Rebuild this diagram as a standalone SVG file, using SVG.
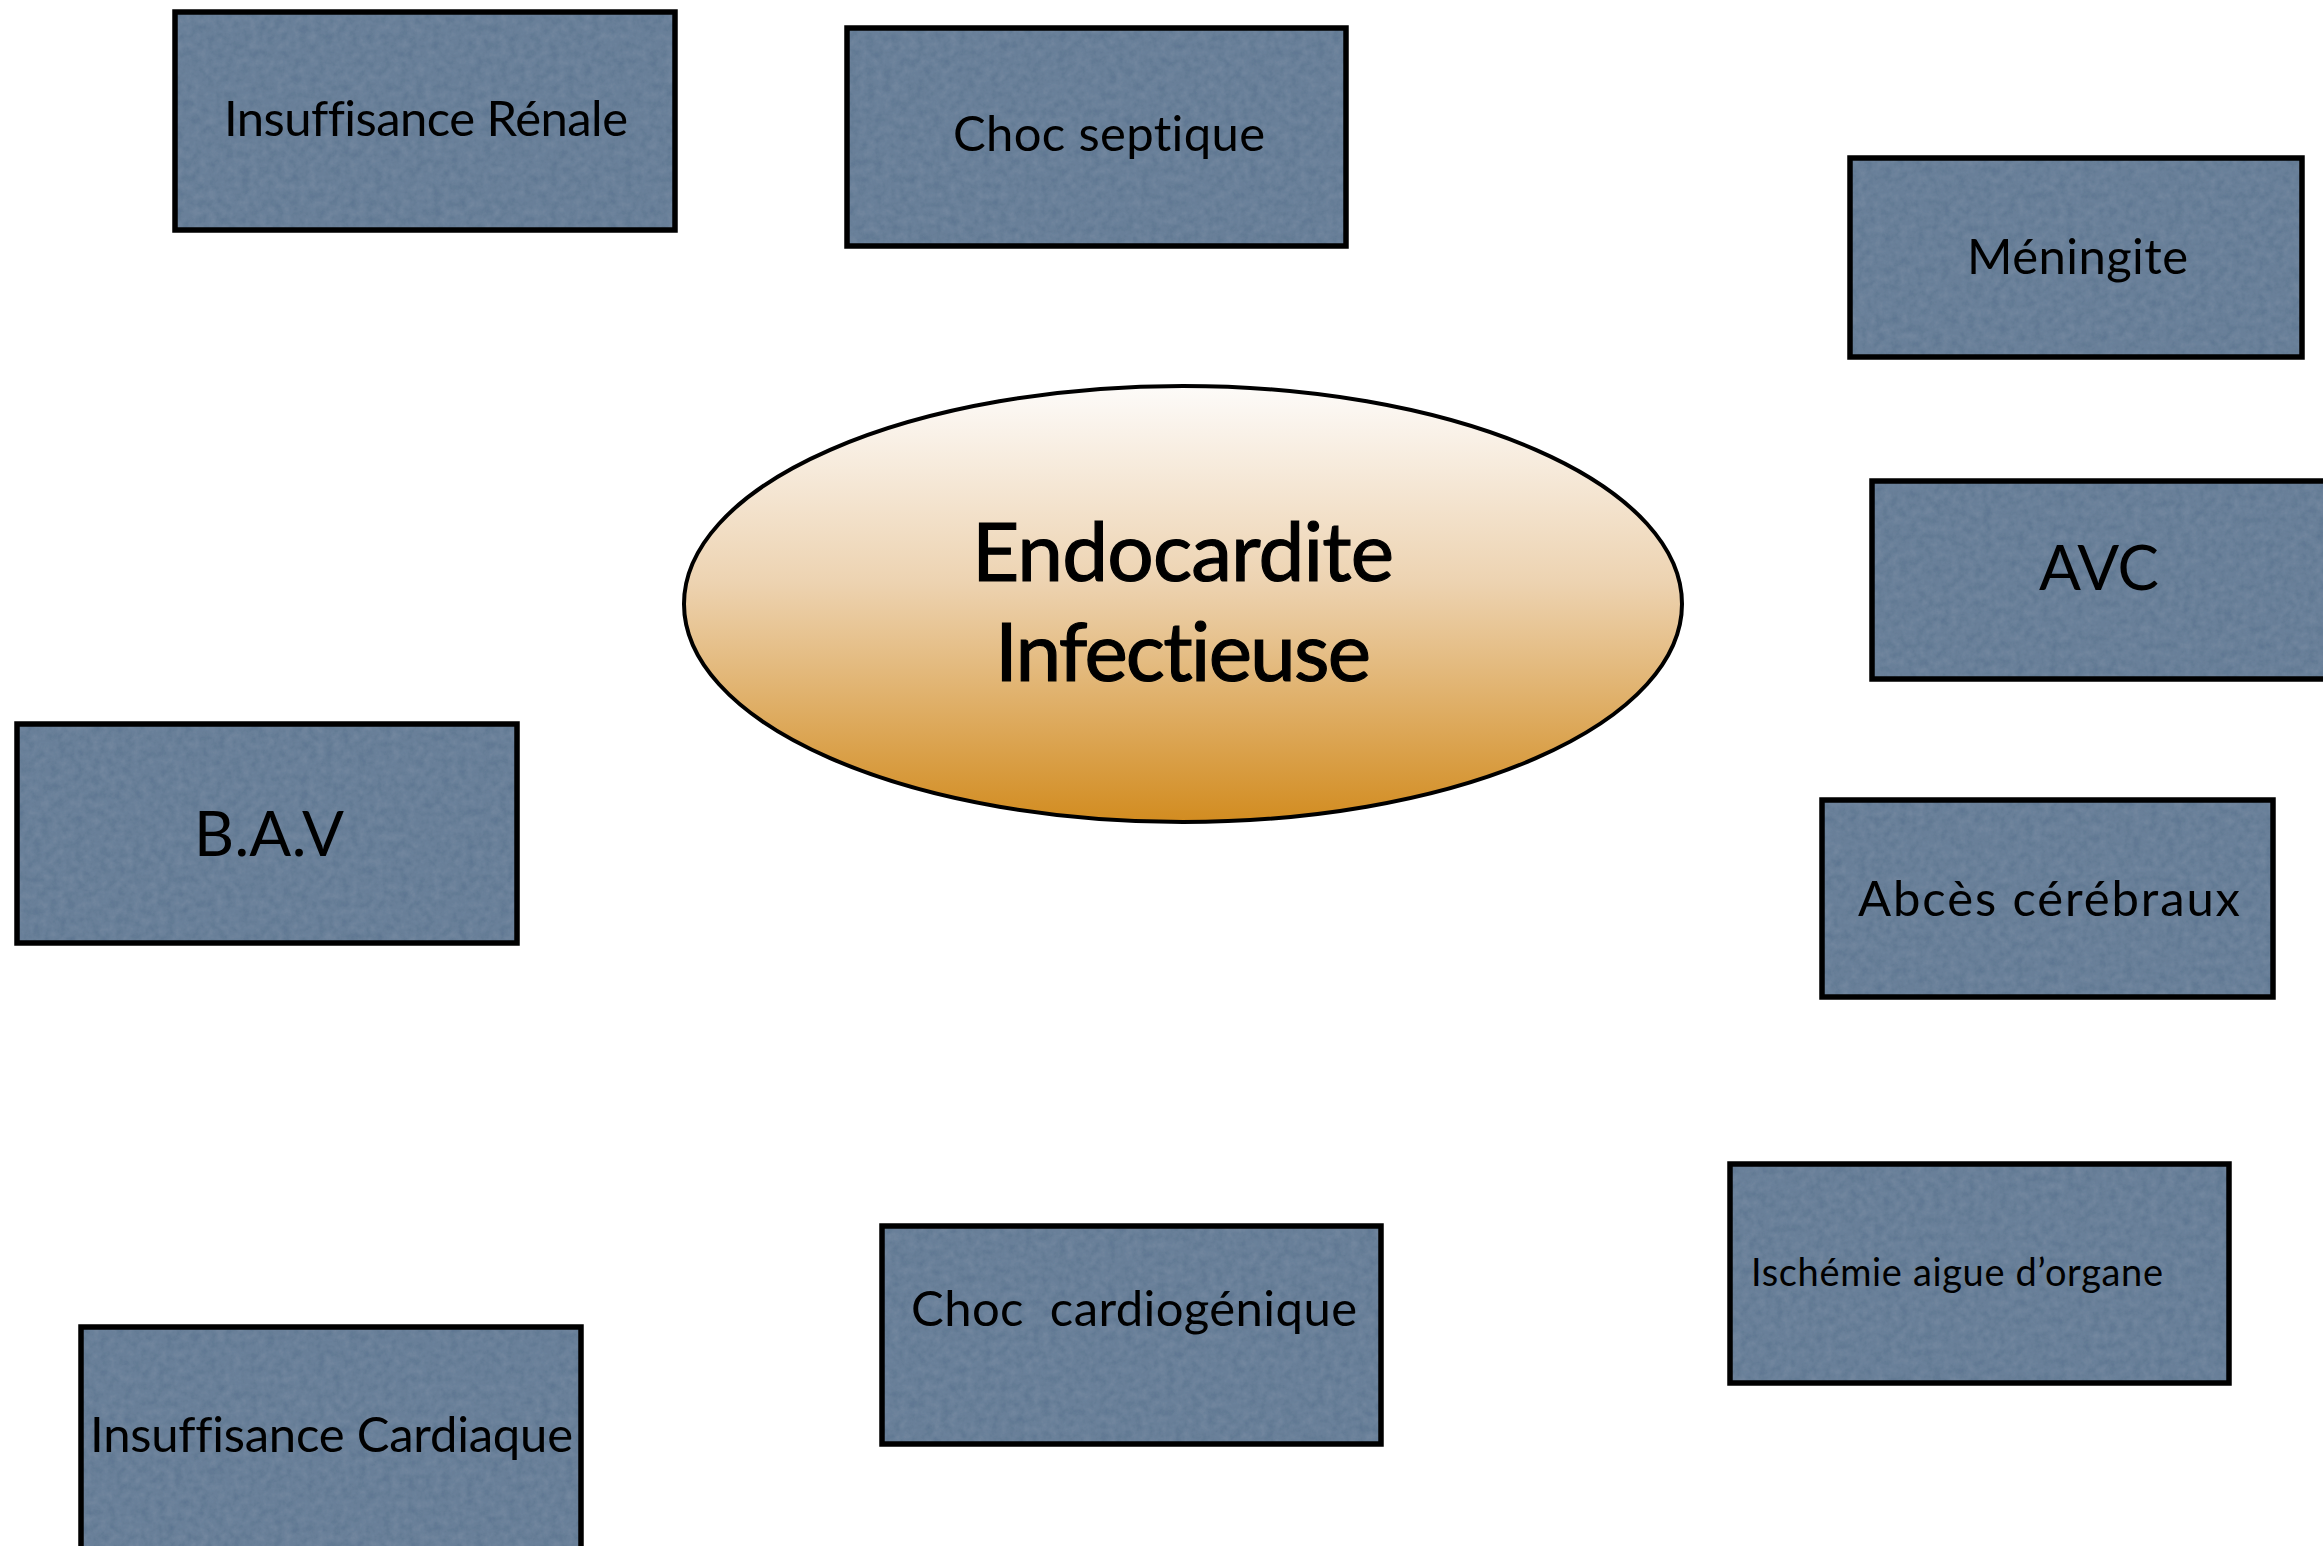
<svg xmlns="http://www.w3.org/2000/svg" width="2323" height="1546" viewBox="0 0 2323 1546">
  <style>
    .fill { fill: #5b7490; }
    .edge { fill: none; stroke: #000; stroke-width: 5.5; }
    .lbl { font-family: "Lato", "Open Sans", "Liberation Sans", sans-serif; fill: #000; font-variant-ligatures: none; }
    .md { font-size: 49px; }
    .lg { font-size: 62px; }
    .sm { font-size: 38px; }
    .hub { font-size: 82px; text-anchor: middle; stroke: #000; stroke-width: 1.2; }
  </style>
  <defs>
    <linearGradient id="hubFill" x1="0" y1="0" x2="0" y2="1">
      <stop offset="0" stop-color="#fdfbf9"/>
      <stop offset="0.45" stop-color="#edd3b1"/>
      <stop offset="1" stop-color="#d28c20"/>
    </linearGradient>
    <!-- soft paper grain for the box fills -->
    <filter id="grain" x="0" y="0" width="100%" height="100%">
      <feTurbulence type="fractalNoise" baseFrequency="0.12" numOctaves="4" seed="7" result="n"/>
      <feColorMatrix in="n" type="matrix" values="0 0 0 0 0.62  0 0 0 0 0.72  0 0 0 0 0.84  0 0 0 0.14 0" result="tint"/>
      <feComposite in="tint" in2="SourceGraphic" operator="in" result="t"/>
      <feMerge><feMergeNode in="SourceGraphic"/><feMergeNode in="t"/></feMerge>
    </filter>
  </defs>

  <rect width="2323" height="1546" fill="#fff"/>

  <!-- no connectors are drawn between the nodes -->
  <g id="connectors"></g>

  <g id="hub">
    <ellipse cx="1183" cy="604" rx="499" ry="218" fill="url(#hubFill)" stroke="#000" stroke-width="4"/>
    <text class="lbl hub" x="1183" y="581" textLength="422">Endocardite</text>
    <text class="lbl hub" x="1183" y="681" textLength="376">Infectieuse</text>
  </g>

  <g id="insuffisance-renale">
    <rect class="fill" filter="url(#grain)" x="175" y="12" width="500" height="218"/>
    <rect class="edge" x="175" y="12" width="500" height="218"/>
    <text class="lbl md" x="224" y="136" textLength="404">Insuffisance Rénale</text>
  </g>

  <g id="choc-septique">
    <rect class="fill" filter="url(#grain)" x="847" y="28" width="499" height="218"/>
    <rect class="edge" x="847" y="28" width="499" height="218"/>
    <text class="lbl md" x="953" y="151" textLength="312">Choc septique</text>
  </g>

  <g id="meningite">
    <rect class="fill" filter="url(#grain)" x="1850" y="158" width="452" height="199"/>
    <rect class="edge" x="1850" y="158" width="452" height="199"/>
    <text class="lbl md" x="1967" y="274" textLength="221">Méningite</text>
  </g>

  <g id="avc">
    <rect class="fill" filter="url(#grain)" x="1872" y="481" width="460" height="198"/>
    <rect class="edge" x="1872" y="481" width="460" height="198"/>
    <text class="lbl lg" x="2039" y="590" textLength="120">AVC</text>
  </g>

  <g id="abces-cerebraux">
    <rect class="fill" filter="url(#grain)" x="1822" y="800" width="451" height="197"/>
    <rect class="edge" x="1822" y="800" width="451" height="197"/>
    <text class="lbl md" x="1858" y="916" textLength="382">Abcès cérébraux</text>
  </g>

  <g id="bav">
    <rect class="fill" filter="url(#grain)" x="17" y="724" width="500" height="219"/>
    <rect class="edge" x="17" y="724" width="500" height="219"/>
    <text class="lbl lg" x="194" y="856" textLength="150">B.A.V</text>
  </g>

  <g id="ischemie">
    <rect class="fill" filter="url(#grain)" x="1730" y="1164" width="499" height="219"/>
    <rect class="edge" x="1730" y="1164" width="499" height="219"/>
    <text class="lbl sm" x="1751" y="1286" textLength="412">Ischémie aigue d’organe</text>
  </g>

  <g id="choc-cardiogenique">
    <rect class="fill" filter="url(#grain)" x="882" y="1226" width="499" height="218"/>
    <rect class="edge" x="882" y="1226" width="499" height="218"/>
    <text class="lbl md" x="911" y="1326" textLength="446" xml:space="preserve">Choc  cardiogénique</text>
  </g>

  <g id="insuffisance-cardiaque">
    <rect class="fill" filter="url(#grain)" x="81" y="1327" width="500" height="230"/>
    <rect class="edge" x="81" y="1327" width="500" height="230"/>
    <text class="lbl md" x="90" y="1452" textLength="483">Insuffisance Cardiaque</text>
  </g>
</svg>
